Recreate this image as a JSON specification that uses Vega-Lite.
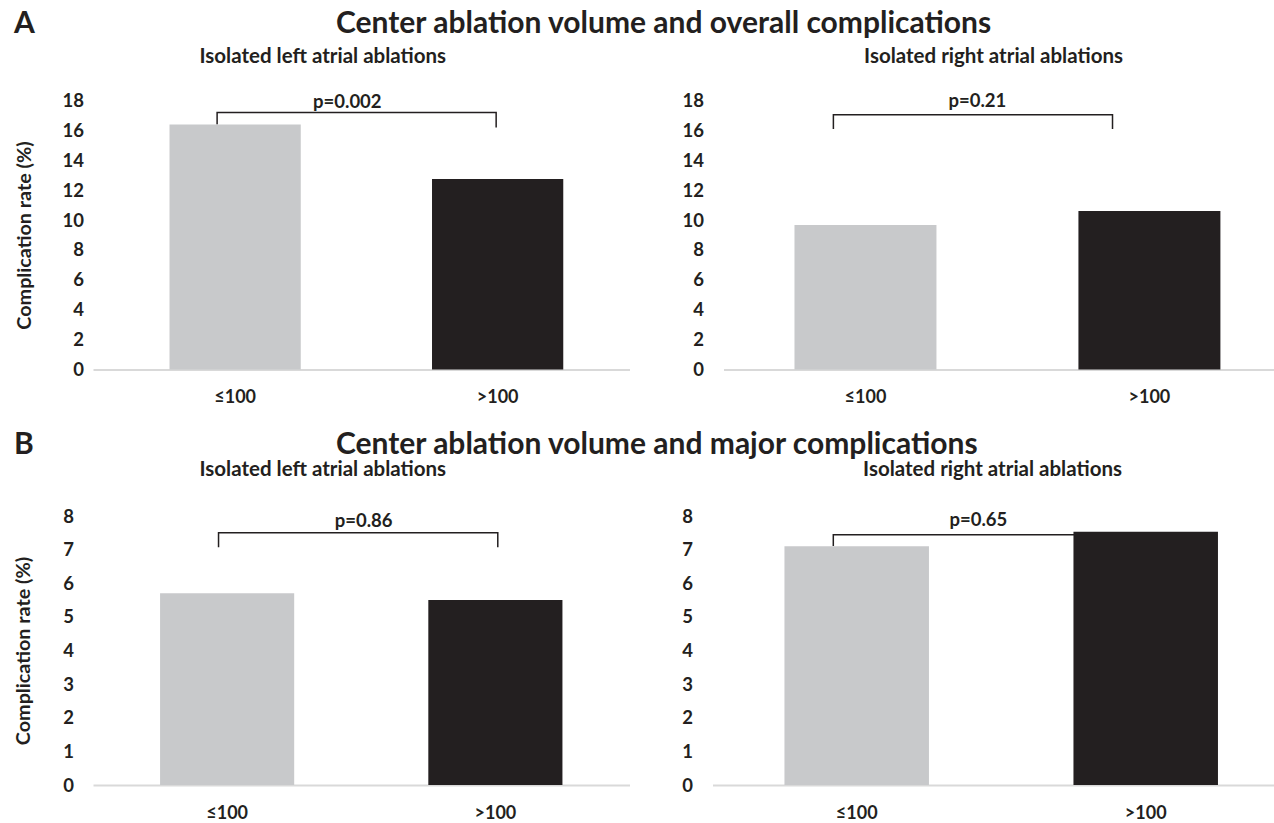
{
  "$schema": "https://vega.github.io/schema/vega-lite/v6.json",
  "background": "white",
  "padding": {"left": 13, "top": 8.5, "right": 0, "bottom": 0},
  "config": {
    "font": "Lato",
    "view": {"stroke": null},
    "axis": {"labelFont": "Lato", "labelFontWeight": "bold", "labelColor": "#231f20", "titleFont": "Lato", "titleColor": "#231f20", "titleFontWeight": "bold", "ticks": false, "tickSize": 0, "grid": false, "labelOverlap": false},
    "axisX": {"domainColor": "#d9d9d9", "domainWidth": 2, "labelAngle": 0, "labelPadding": 19, "labelFontSize": 18},
    "axisY": {"domain": false, "labelFontSize": 18.5, "titleFontSize": 19.8, "labelOverlap": false},
    "title": {"font": "Lato", "fontWeight": "bold", "color": "#231f20"}
  },
  "spacing": 22.5,
  "vconcat": [
    {
      "title": {"text": "A", "anchor": "start", "frame": "bounds", "fontSize": 30, "offset": -30},
      "vconcat": [
        {
          "title": {"text": "Center ablation volume and overall complications", "anchor": "start", "frame": "bounds", "fontSize": 30, "dx": 322, "offset": 7.5},
          "spacing": 51.5,
          "hconcat": [
            {
              "width": 536.5, "height": 269,
              "title": {"text": "Isolated left atrial ablations", "anchor": "start", "frame": "group", "dx": 106.5, "fontSize": 20.5, "offset": 24.5},
              "resolve": {"scale": {"x": "independent"}},
              "encoding": {
                "y": {"field": "rate", "type": "quantitative", "scale": {"domain": [0, 18], "nice": false}, "axis": {"values": [0, 2, 4, 6, 8, 10, 12, 14, 16, 18], "labelOverlap": false, "title": "Complication rate (%)", "labelPadding": 9.5, "titlePadding": 28}}
              },
              "layer": [
                {
                  "data": {"values": [
                    {"pos": 0.429, "rate": 16.4, "o": 1},
                    {"pos": 0.429, "rate": 17.2, "o": 2},
                    {"pos": 1.492, "rate": 17.2, "o": 3},
                    {"pos": 1.492, "rate": 16.2, "o": 4}
                  ]},
                  "mark": {"type": "line", "color": "#231f20", "strokeWidth": 1.5},
                  "encoding": {
                    "x": {"field": "pos", "type": "quantitative", "scale": {"domain": [-0.0438, 2], "nice": false, "zero": false}, "axis": null},
                    "order": {"field": "o"}
                  }
                },
                {
                  "data": {"values": [
                    {"grp": "≤100", "rate": 16.4},
                    {"grp": ">100", "rate": 12.75}
                  ]},
                  "mark": {"type": "bar"},
                  "encoding": {
                    "x": {"field": "grp", "type": "nominal", "sort": ["≤100", ">100"], "scale": {"paddingInner": 0.5, "paddingOuter": 0.2719, "align": 0.536}, "axis": {"title": null}},
                    "color": {"field": "grp", "type": "nominal", "scale": {"domain": ["≤100", ">100"], "range": ["#c8c9cb", "#231f20"]}, "legend": null}
                  }
                },
                {
                  "data": {"values": [{"pos": 0.925, "rate": 17.9, "label": "p=0.002"}]},
                  "mark": {"type": "text", "fontSize": 18.5, "fontWeight": "bold", "color": "#231f20", "font": "Lato"},
                  "encoding": {
                    "x": {"field": "pos", "type": "quantitative", "scale": {"domain": [-0.0438, 2], "nice": false, "zero": false}, "axis": null},
                    "text": {"field": "label"}
                  }
                }
              ]
            },
            {
              "width": 552, "height": 269,
              "title": {"text": "Isolated right atrial ablations", "anchor": "start", "frame": "group", "dx": 140.6, "fontSize": 20.5, "offset": 24.5},
              "resolve": {"scale": {"x": "independent"}},
              "encoding": {
                "y": {"field": "rate", "type": "quantitative", "scale": {"domain": [0, 18], "nice": false}, "axis": {"values": [0, 2, 4, 6, 8, 10, 12, 14, 16, 18], "labelOverlap": false, "title": null, "labelPadding": 20}}
              },
              "layer": [
                {
                  "data": {"values": [
                    {"pos": 0.387, "rate": 16.1, "o": 1},
                    {"pos": 0.387, "rate": 17.05, "o": 2},
                    {"pos": 1.37, "rate": 17.05, "o": 3},
                    {"pos": 1.37, "rate": 16.1, "o": 4}
                  ]},
                  "mark": {"type": "line", "color": "#231f20", "strokeWidth": 1.5},
                  "encoding": {
                    "x": {"field": "pos", "type": "quantitative", "scale": {"domain": [0, 1.944], "nice": false}, "axis": null},
                    "order": {"field": "o"}
                  }
                },
                {
                  "data": {"values": [
                    {"grp": "≤100", "rate": 9.67},
                    {"grp": ">100", "rate": 10.6}
                  ]},
                  "mark": {"type": "bar"},
                  "encoding": {
                    "x": {"field": "grp", "type": "nominal", "sort": ["≤100", ">100"], "scale": {"paddingInner": 0.5, "paddingOuter": 0.222, "align": 0.563}, "axis": {"title": null}},
                    "color": {"field": "grp", "type": "nominal", "scale": {"domain": ["≤100", ">100"], "range": ["#c8c9cb", "#231f20"]}, "legend": null}
                  }
                },
                {
                  "data": {"values": [{"pos": 0.894, "rate": 18.0, "label": "p=0.21"}]},
                  "mark": {"type": "text", "fontSize": 18.5, "fontWeight": "bold", "color": "#231f20", "font": "Lato"},
                  "encoding": {
                    "x": {"field": "pos", "type": "quantitative", "scale": {"domain": [0, 1.944], "nice": false}, "axis": null},
                    "text": {"field": "label"}
                  }
                }
              ]
            }
          ]
        }
      ]
    },
    {
      "title": {"text": "B", "anchor": "start", "frame": "bounds", "fontSize": 30, "offset": -30},
      "vconcat": [
        {
          "title": {"text": "Center ablation volume and major complications", "anchor": "start", "frame": "bounds", "fontSize": 30, "dx": 322, "offset": 0},
          "spacing": 51.5,
          "hconcat": [
            {
              "width": 536.5, "height": 269,
              "title": {"text": "Isolated left atrial ablations", "anchor": "start", "frame": "group", "dx": 106.5, "fontSize": 20.5, "offset": 27},
              "resolve": {"scale": {"x": "independent"}},
              "encoding": {
                "y": {"field": "rate", "type": "quantitative", "scale": {"domain": [0, 8], "nice": false}, "axis": {"values": [0, 1, 2, 3, 4, 5, 6, 7, 8], "labelOverlap": false, "title": "Complication rate (%)", "labelPadding": 19.5, "titlePadding": 28.8}}
              },
              "layer": [
                {
                  "data": {"values": [
                    {"pos": 0.468, "rate": 7.07, "o": 1},
                    {"pos": 0.468, "rate": 7.5, "o": 2},
                    {"pos": 1.509, "rate": 7.5, "o": 3},
                    {"pos": 1.509, "rate": 7.07, "o": 4}
                  ]},
                  "mark": {"type": "line", "color": "#231f20", "strokeWidth": 1.5},
                  "encoding": {
                    "x": {"field": "pos", "type": "quantitative", "scale": {"domain": [0, 2], "nice": false}, "axis": null},
                    "order": {"field": "o"}
                  }
                },
                {
                  "data": {"values": [
                    {"grp": "≤100", "rate": 5.7},
                    {"grp": ">100", "rate": 5.5}
                  ]},
                  "mark": {"type": "bar"},
                  "encoding": {
                    "x": {"field": "grp", "type": "nominal", "sort": ["≤100", ">100"], "scale": {"paddingInner": 0.5, "paddingOuter": 0.25}, "axis": {"title": null}},
                    "color": {"field": "grp", "type": "nominal", "scale": {"domain": ["≤100", ">100"], "range": ["#c8c9cb", "#231f20"]}, "legend": null}
                  }
                },
                {
                  "data": {"values": [{"pos": 1.009, "rate": 7.84, "label": "p=0.86"}]},
                  "mark": {"type": "text", "fontSize": 18.5, "fontWeight": "bold", "color": "#231f20", "font": "Lato"},
                  "encoding": {
                    "x": {"field": "pos", "type": "quantitative", "scale": {"domain": [0, 2], "nice": false}, "axis": null},
                    "text": {"field": "label"}
                  }
                }
              ]
            },
            {
              "width": 562, "height": 269,
              "title": {"text": "Isolated right atrial ablations", "anchor": "start", "frame": "group", "dx": 150.6, "fontSize": 20.5, "offset": 27},
              "resolve": {"scale": {"x": "independent"}},
              "encoding": {
                "y": {"field": "rate", "type": "quantitative", "scale": {"domain": [0, 8], "nice": false}, "axis": {"values": [0, 1, 2, 3, 4, 5, 6, 7, 8], "labelOverlap": false, "title": null, "labelPadding": 20}}
              },
              "layer": [
                {
                  "data": {"values": [
                    {"pos": 0.418, "rate": 7.11, "o": 1},
                    {"pos": 0.418, "rate": 7.44, "o": 2},
                    {"pos": 1.5, "rate": 7.44, "o": 3}
                  ]},
                  "mark": {"type": "line", "color": "#231f20", "strokeWidth": 1.5},
                  "encoding": {
                    "x": {"field": "pos", "type": "quantitative", "scale": {"domain": [0, 1.9446], "nice": false}, "axis": null},
                    "order": {"field": "o"}
                  }
                },
                {
                  "data": {"values": [
                    {"grp": "≤100", "rate": 7.1},
                    {"grp": ">100", "rate": 7.53}
                  ]},
                  "mark": {"type": "bar"},
                  "encoding": {
                    "x": {"field": "grp", "type": "nominal", "sort": ["≤100", ">100"], "scale": {"paddingInner": 0.5, "paddingOuter": 0.2223, "align": 0.56}, "axis": {"title": null}},
                    "color": {"field": "grp", "type": "nominal", "scale": {"domain": ["≤100", ">100"], "range": ["#c8c9cb", "#231f20"]}, "legend": null}
                  }
                },
                {
                  "data": {"values": [{"pos": 0.92, "rate": 7.87, "label": "p=0.65"}]},
                  "mark": {"type": "text", "fontSize": 18.5, "fontWeight": "bold", "color": "#231f20", "font": "Lato"},
                  "encoding": {
                    "x": {"field": "pos", "type": "quantitative", "scale": {"domain": [0, 1.9446], "nice": false}, "axis": null},
                    "text": {"field": "label"}
                  }
                }
              ]
            }
          ]
        }
      ]
    }
  ]
}
